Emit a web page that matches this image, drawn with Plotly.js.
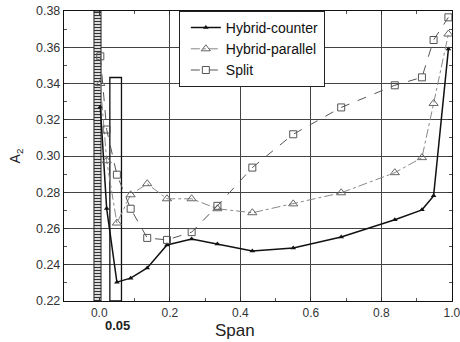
<!DOCTYPE html>
<html><head><meta charset="utf-8">
<script src="https://cdn.plot.ly/plotly-3.0.1.min.js"></script>
<style>html,body{margin:0;padding:0;background:#fff}#chart{width:460px;height:342px}</style>
</head><body><div id="chart"></div>
<script>
// Span positions (shared by all series)
const span = [0.003, 0.021, 0.05, 0.089, 0.136, 0.192, 0.262, 0.335, 0.434, 0.55, 0.686, 0.838, 0.915, 0.948, 0.99];
const hybridCounter  = [0.327, 0.271, 0.2304, 0.2326, 0.2382, 0.2509, 0.2542, 0.2514, 0.2476, 0.2493, 0.2553, 0.2648, 0.2703, 0.278, 0.359];
const hybridParallel = [0.340, 0.2974, 0.263, 0.2786, 0.2847, 0.2764, 0.2764, 0.2709, 0.2687, 0.2736, 0.2797, 0.2908, 0.2991, 0.329, 0.3673];
const split          = [0.355, 0.3146, 0.2897, 0.2709, 0.2548, 0.2537, 0.258, 0.2725, 0.2936, 0.312, 0.3268, 0.339, 0.3434, 0.364, 0.3765];
const seriesNames = ["Hybrid-counter", "Hybrid-parallel", "Split"];
// Marked regions: hatched root strip and the 0.05 box
const hatchX = [-0.005], hatchBase = [0.22], hatchHeight = [0.16];
const boxX = [0.0465], boxBase = [0.22], boxHeight = [0.1233];
const boxLabel = "0.05";
const xTitle = "Span";

const font = "Liberation Sans, Arial, sans-serif";
const traces = [
  {type:'scatter', mode:'lines+markers', name:seriesNames[0], x:span, y:hybridCounter,
   line:{color:'#111', width:1.5}, marker:{symbol:'triangle-up', size:5, color:'#111'}},
  {type:'scatter', mode:'lines+markers', name:seriesNames[1], x:span, y:hybridParallel,
   line:{color:'#888', width:1, dash:'dashdot'}, marker:{symbol:'triangle-up-open', size:8, color:'#666', line:{width:1}}},
  {type:'scatter', mode:'lines+markers', name:seriesNames[2], x:span, y:split,
   line:{color:'#555', width:1, dash:'dash'}, marker:{symbol:'square-open', size:7, color:'#555', line:{width:1}}},
  {type:'bar', x:hatchX, y:hatchHeight, base:hatchBase, width:0.02, showlegend:false, hoverinfo:'skip',
   marker:{color:'#fff', line:{color:'#222', width:1}, pattern:{shape:'-', size:3, solidity:0.45, fgcolor:'#333', bgcolor:'#fff'}}},
  {type:'bar', x:boxX, y:boxHeight, base:boxBase, width:0.033, showlegend:false, hoverinfo:'skip',
   marker:{color:'rgba(0,0,0,0)', line:{color:'#111', width:1.3}}}
];
const layout = {
  width:460, height:342, margin:{l:64, r:8, t:11, b:41},
  paper_bgcolor:'#fff', plot_bgcolor:'#fff', barmode:'overlay',
  font:{family:font, size:12, color:'#222'},
  xaxis:{range:[-0.1, 1.0002], dtick:0.2, tick0:0, tickformat:'.1f', showgrid:true, gridcolor:'#444', gridwidth:1,
    zeroline:false, showline:true, linecolor:'#111', linewidth:1.2, mirror:'allticks', ticks:'inside', ticklen:4, tickcolor:'#333',
    minor:{ticks:'inside', dtick:0.1, ticklen:3, tickcolor:'#555', showgrid:false},
    ticklabeloverflow:'allow', tickfont:{size:12, color:'#333'}},
  yaxis:{range:[0.22, 0.38], dtick:0.02, tickformat:'.2f', showgrid:true, gridcolor:'#444', gridwidth:1,
    zeroline:false, showline:true, linecolor:'#111', linewidth:1.2, mirror:'allticks', ticks:'inside', ticklen:4, tickcolor:'#333',
    minor:{ticks:'inside', dtick:0.01, ticklen:3, tickcolor:'#555', showgrid:false},
    tickfont:{size:12.5, color:'#333'},
    title:{text:'A<sub>2</sub>', font:{size:14, color:'#222'}, standoff:12}},
  legend:{x:0.296, y:1, xanchor:'left', yanchor:'top', bgcolor:'#fff', bordercolor:'#222', borderwidth:1,
    font:{size:14, color:'#111'}, tracegroupgap:0, traceorder:'normal', indentation:6},
  annotations:[
    {text:'<b>'+boxLabel+'</b>', x:boxX[0]+0.005, xref:'x', y:-0.083, yref:'paper', yanchor:'middle', showarrow:false,
      font:{size:13, color:'#222'}},
    {text:xTitle, x:0.44, xref:'paper', y:-0.103, yref:'paper', yanchor:'middle', showarrow:false,
      font:{size:17, color:'#222'}}
  ]
};
Plotly.newPlot('chart', traces, layout, {staticPlot:true});
</script></body></html>
